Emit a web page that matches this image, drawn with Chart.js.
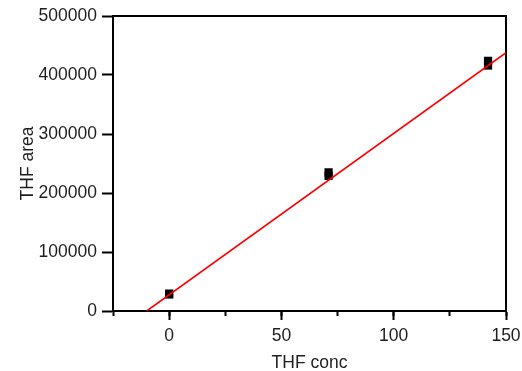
<!DOCTYPE html>
<html>
<head>
<meta charset="utf-8">
<script src="https://cdn.jsdelivr.net/npm/chart.js@4/dist/chart.umd.min.js"></script>
<style>
html,body{margin:0;padding:0;background:#fff;}
#wrap{width:522px;height:371px;position:relative;}
</style>
</head>
<body>
<div id="wrap"><canvas id="c" width="522" height="371"></canvas></div>
<script>
// Measured data
const thfConc = [0, 0, 71, 71, 142, 142];
const thfArea = [28000, 29500, 229000, 235000, 416000, 424000];
// Fitted line end points
const fitConc = [-10, 150];
const fitArea = [0, 437800];
// Axis settings
const xMin = -25, xMax = 150, xMajorStep = 50, xMinorStep = 25;
const yMin = 0, yMax = 500000, yStep = 100000;
const xTitle = 'THF conc';
const yTitle = 'THF area';

const txt = '#1e1e1e';
const fontMain = {family: '"Liberation Sans", Arial, sans-serif', size: 17.5};
const plain = v => String(v);

const pts = thfConc.map((x, i) => ({x: x, y: thfArea[i]}));
const fit = fitConc.map((x, i) => ({x: x, y: fitArea[i]}));

const fitX = (h) => s => { s.height = h; s.paddingLeft = 0; s.paddingRight = 0; };

new Chart(document.getElementById('c'), {
  type: 'scatter',
  data: {
    datasets: [
      {
        type: 'line', data: fit, borderColor: '#ff0000', borderWidth: 1.6,
        pointRadius: 0, fill: false, order: 1, tension: 0
      },
      {
        data: pts, pointStyle: 'rect', pointRadius: 5.8, pointBorderWidth: 0,
        backgroundColor: '#000', borderColor: '#000', order: 2
      }
    ]
  },
  options: {
    responsive: false,
    animation: false,
    devicePixelRatio: 1,
    layout: {padding: 0},
    plugins: {legend: {display: false}, tooltip: {enabled: false}},
    scales: {
      x: {
        type: 'linear', position: 'bottom', weight: 1,
        min: xMin, max: xMax,
        afterFit: fitX(60),
        ticks: {stepSize: xMajorStep, includeBounds: false, color: txt, font: fontMain, padding: 6, maxRotation: 0, callback: plain},
        grid: {drawOnChartArea: false, drawTicks: true, tickLength: 9, tickWidth: 2, tickColor: '#000'},
        border: {display: true, color: '#000', width: 2},
        title: {display: true, text: xTitle, color: txt, font: fontMain, padding: {top: 0, bottom: -3}}
      },
      x2: {
        type: 'linear', position: 'bottom', weight: 0,
        min: xMin, max: xMax,
        afterFit: fitX(0),
        ticks: {stepSize: xMinorStep, display: false},
        grid: {drawOnChartArea: false, drawTicks: true, tickLength: 5, tickWidth: 2, tickColor: '#000'},
        border: {display: true, color: '#000', width: 2}
      },
      xTop: {
        type: 'linear', position: 'top',
        min: xMin, max: xMax,
        afterFit: fitX(16),
        ticks: {display: false},
        grid: {drawOnChartArea: false, drawTicks: false},
        border: {display: true, color: '#000', width: 2}
      },
      y: {
        type: 'linear', position: 'left',
        min: yMin, max: yMax,
        afterFit: s => { s.width = 113; s.paddingTop = 0; s.paddingBottom = 0; },
        ticks: {stepSize: yStep, color: txt, font: fontMain, padding: 5, callback: plain},
        grid: {drawOnChartArea: false, drawTicks: true, tickLength: 11, tickWidth: 2, tickColor: '#000'},
        border: {display: true, color: '#000', width: 2},
        title: {display: true, text: yTitle, color: txt, font: fontMain, padding: {top: 18, bottom: 0}}
      },
      yRight: {
        type: 'linear', position: 'right',
        min: yMin, max: yMax,
        afterFit: s => { s.width = 16; s.paddingTop = 0; s.paddingBottom = 0; },
        ticks: {display: false},
        grid: {drawOnChartArea: false, drawTicks: false},
        border: {display: true, color: '#000', width: 2}
      }
    }
  }
});
</script>
</body>
</html>
